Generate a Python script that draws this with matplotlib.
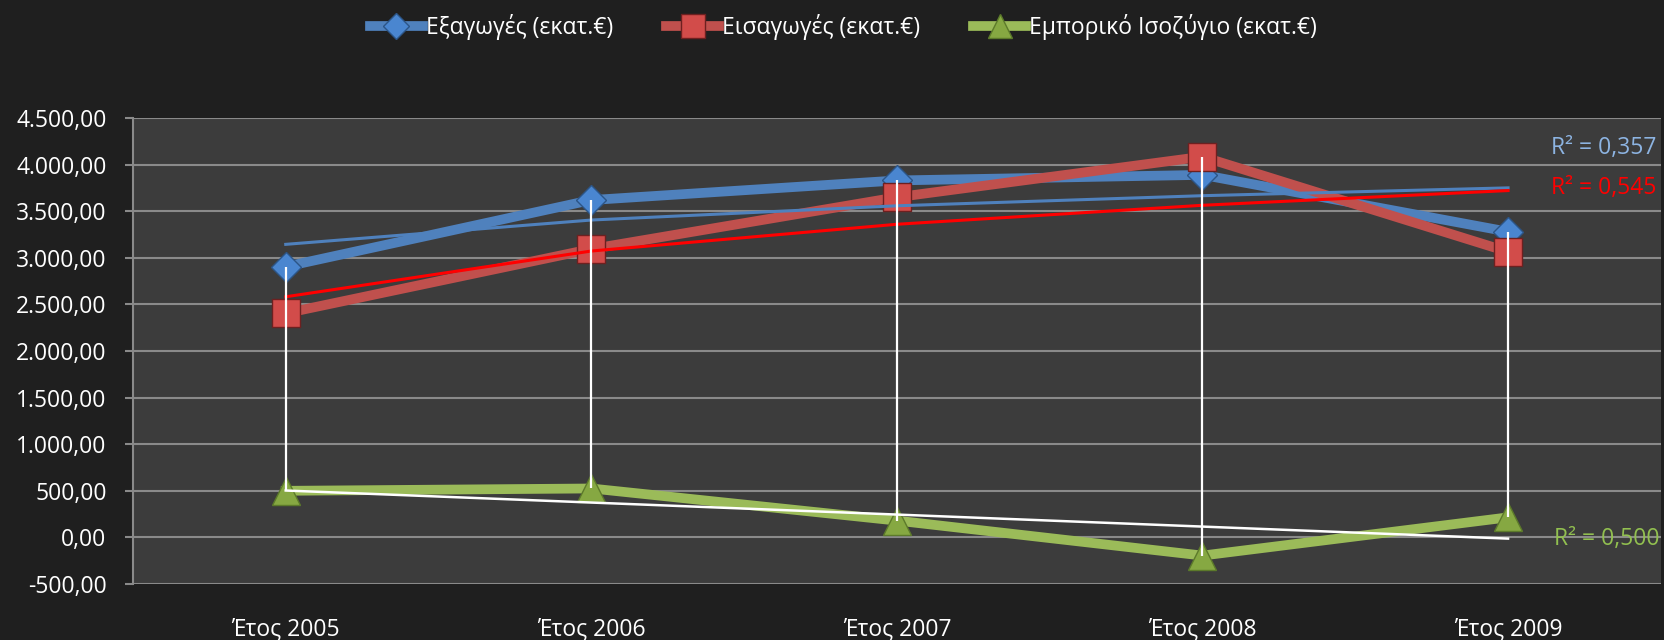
import numpy as np
import matplotlib.pyplot as plt
from matplotlib.ticker import FuncFormatter, MultipleLocator

# Δεδομένα
years = ['Έτος 2005', 'Έτος 2006', 'Έτος 2007', 'Έτος 2008', 'Έτος 2009']
exports = [2905, 3620, 3830, 3890, 3280]
imports = [2405, 3095, 3650, 4085, 3065]
balance = [500, 525, 180, -195, 215]
r2_labels = ['R² = 0,357', 'R² = 0,545', 'R² = 0,500']

plt.rcParams['font.family'] = ['Open Sans', 'DejaVu Sans']
plt.rcParams['font.size'] = 16.5

bg = '#1f1f1f'
panel = '#3c3c3c'
grid_c = '#8a8a8a'
blue, red, green = '#4f81bd', '#c0504d', '#9bbb59'

fig = plt.figure(figsize=(16.64, 6.4), dpi=100, facecolor=bg)
ax = fig.add_axes([0.0799, 0.0875, 0.9182, 0.7281], facecolor=panel)

x = np.arange(len(years))

ax.plot(x, exports, color=blue, lw=7, marker='D', ms=15, mfc='#4a86d0',
        mec='#2c5587', mew=1, label='Εξαγωγές (εκατ.€)', zorder=3)
ax.plot(x, imports, color=red, lw=7, marker='s', ms=20, mfc='#d24c4a',
        mec='#6e2020', mew=1, label='Εισαγωγές (εκατ.€)', zorder=3)
ax.plot(x, balance, color=green, lw=7, marker='^', ms=20, mfc='#86a842',
        mec='#5c7a2a', mew=1, label='Εμπορικό Ισοζύγιο (εκατ.€)', zorder=3)

# γραμμές τάσης (λογαριθμικές για εξαγωγές/εισαγωγές, γραμμική για ισοζύγιο)
lx = np.log(x + 1)
b, a = np.polyfit(lx, exports, 1)
ax.plot(x, a + b * lx, color=blue, lw=2.2, zorder=4)
b, a = np.polyfit(lx, imports, 1)
ax.plot(x, a + b * lx, color='#ff0000', lw=2.2, zorder=4)
b, a = np.polyfit(x, balance, 1)
ax.plot(x, a + b * x, color='white', lw=1.8, zorder=4)

# γραμμές υψηλού-χαμηλού
data = np.array([exports, imports, balance])
ax.vlines(x, data.min(axis=0), data.max(axis=0), color='white', lw=1.6, zorder=5)

ax.text(4.14, 4175, r2_labels[0], color='#8db4e2', va='center', ha='left', clip_on=False)
ax.text(4.14, 3746, r2_labels[1], color='#ff0000', va='center', ha='left', clip_on=False)
ax.text(4.15, -14, r2_labels[2], color='#92c050', va='center', ha='left', clip_on=False)

ax.set_xlim(-0.5, 4.5)
ax.set_ylim(-500, 4500)
ax.yaxis.set_major_locator(MultipleLocator(500))
fmt = lambda v, p: f'{v:,.2f}'.replace(',', 'X').replace('.', ',').replace('X', '.')
ax.yaxis.set_major_formatter(FuncFormatter(fmt))
ax.set_xticks(x)
ax.set_xticklabels(years)
ax.grid(axis='y', color=grid_c, lw=1.5, zorder=1)
ax.set_axisbelow(True)

for s in ['top', 'right', 'bottom']:
    ax.spines[s].set_visible(False)
ax.spines['left'].set_color(grid_c)
ax.spines['left'].set_linewidth(1.5)
ax.tick_params(axis='y', colors='white', length=6, width=1.5, color=grid_c, pad=13)
ax.tick_params(axis='x', colors='white', length=0, pad=24)

fig.legend(loc='center', bbox_to_anchor=(0.507, 0.958), ncol=3, frameon=False,
           labelcolor='white', handlelength=2.3, handletextpad=0.15, columnspacing=2.3,
           markerscale=0.85)

fig.savefig('out.png', dpi=100, facecolor=bg)
